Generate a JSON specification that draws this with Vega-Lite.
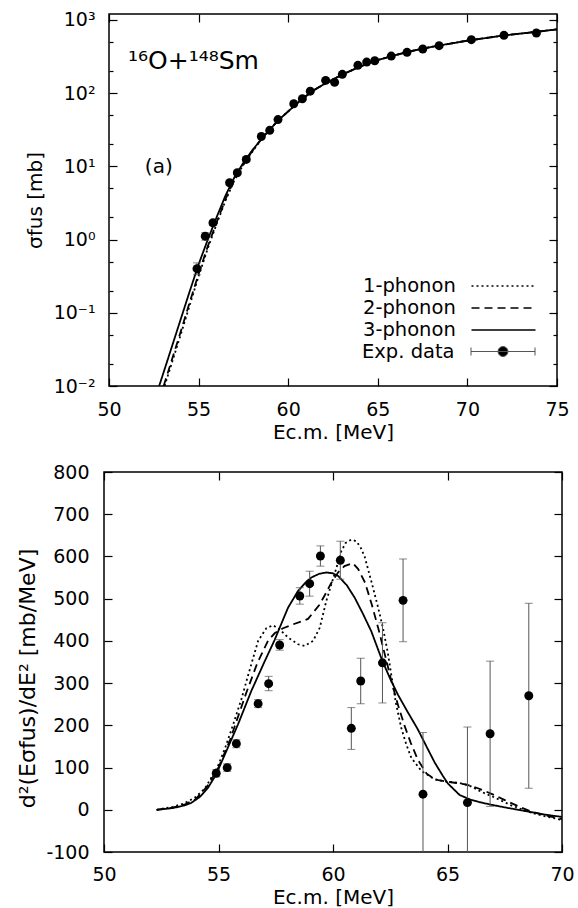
{
  "$schema": "https://vega.github.io/schema/vega-lite/v6.json",
  "background": "white",
  "padding": {"left": 16, "top": 10, "right": 0, "bottom": 0},
  "datasets": {
    "topCurves": [
      {"model":"3-phonon","E":52.8,"sigma":0.01},{"model":"3-phonon","E":53.5,"sigma":0.0339},{"model":"3-phonon","E":54,"sigma":0.0813},{"model":"3-phonon","E":54.5,"sigma":0.195},{"model":"3-phonon","E":55,"sigma":0.457},{"model":"3-phonon","E":55.5,"sigma":0.977},{"model":"3-phonon","E":56,"sigma":2.0},{"model":"3-phonon","E":56.5,"sigma":3.98},{"model":"3-phonon","E":57,"sigma":7.08},{"model":"3-phonon","E":57.5,"sigma":11.2},{"model":"3-phonon","E":58,"sigma":16.6},{"model":"3-phonon","E":58.5,"sigma":23.4},{"model":"3-phonon","E":59,"sigma":32.4},{"model":"3-phonon","E":59.5,"sigma":43.7},{"model":"3-phonon","E":60,"sigma":56.2},{"model":"3-phonon","E":60.5,"sigma":72.4},{"model":"3-phonon","E":61,"sigma":91.2},{"model":"3-phonon","E":61.5,"sigma":112},{"model":"3-phonon","E":62,"sigma":132},{"model":"3-phonon","E":63,"sigma":178},{"model":"3-phonon","E":64,"sigma":229},{"model":"3-phonon","E":65,"sigma":282},{"model":"3-phonon","E":66,"sigma":331},{"model":"3-phonon","E":67,"sigma":380},{"model":"3-phonon","E":68,"sigma":427},{"model":"3-phonon","E":70,"sigma":519},{"model":"3-phonon","E":72,"sigma":610},{"model":"3-phonon","E":74,"sigma":692},{"model":"3-phonon","E":75,"sigma":741},
      {"model":"2-phonon","E":53.05,"sigma":0.01},{"model":"2-phonon","E":53.5,"sigma":0.0224},{"model":"2-phonon","E":54,"sigma":0.055},{"model":"2-phonon","E":54.5,"sigma":0.138},{"model":"2-phonon","E":55,"sigma":0.339},{"model":"2-phonon","E":55.5,"sigma":0.794},{"model":"2-phonon","E":56,"sigma":1.70},{"model":"2-phonon","E":56.5,"sigma":3.55},{"model":"2-phonon","E":57,"sigma":6.61},{"model":"2-phonon","E":57.5,"sigma":10.7},{"model":"2-phonon","E":58,"sigma":16.2},{"model":"2-phonon","E":58.5,"sigma":23.4},{"model":"2-phonon","E":59,"sigma":32.4},{"model":"2-phonon","E":59.5,"sigma":43.7},{"model":"2-phonon","E":60,"sigma":56.2},{"model":"2-phonon","E":60.5,"sigma":72.4},{"model":"2-phonon","E":61,"sigma":91.2},{"model":"2-phonon","E":61.5,"sigma":112},{"model":"2-phonon","E":62,"sigma":132},{"model":"2-phonon","E":63,"sigma":178},{"model":"2-phonon","E":64,"sigma":229},{"model":"2-phonon","E":65,"sigma":282},{"model":"2-phonon","E":66,"sigma":331},{"model":"2-phonon","E":67,"sigma":380},{"model":"2-phonon","E":68,"sigma":427},{"model":"2-phonon","E":70,"sigma":519},{"model":"2-phonon","E":72,"sigma":610},{"model":"2-phonon","E":74,"sigma":692},{"model":"2-phonon","E":75,"sigma":741},
      {"model":"1-phonon","E":53.1,"sigma":0.01},{"model":"1-phonon","E":53.5,"sigma":0.0204},{"model":"1-phonon","E":54,"sigma":0.0501},{"model":"1-phonon","E":54.5,"sigma":0.126},{"model":"1-phonon","E":55,"sigma":0.316},{"model":"1-phonon","E":55.5,"sigma":0.741},{"model":"1-phonon","E":56,"sigma":1.62},{"model":"1-phonon","E":56.5,"sigma":3.39},{"model":"1-phonon","E":57,"sigma":6.46},{"model":"1-phonon","E":57.5,"sigma":10.5},{"model":"1-phonon","E":58,"sigma":15.8},{"model":"1-phonon","E":58.5,"sigma":23.4},{"model":"1-phonon","E":59,"sigma":32.4},{"model":"1-phonon","E":59.5,"sigma":43.7},{"model":"1-phonon","E":60,"sigma":56.2},{"model":"1-phonon","E":60.5,"sigma":72.4},{"model":"1-phonon","E":61,"sigma":91.2},{"model":"1-phonon","E":61.5,"sigma":112},{"model":"1-phonon","E":62,"sigma":132},{"model":"1-phonon","E":63,"sigma":178},{"model":"1-phonon","E":64,"sigma":229},{"model":"1-phonon","E":65,"sigma":282},{"model":"1-phonon","E":66,"sigma":331},{"model":"1-phonon","E":67,"sigma":380},{"model":"1-phonon","E":68,"sigma":427},{"model":"1-phonon","E":70,"sigma":519},{"model":"1-phonon","E":72,"sigma":610},{"model":"1-phonon","E":74,"sigma":692},{"model":"1-phonon","E":75,"sigma":741}
    ],
    "topExp": [
      {"E":54.91,"sigma":0.40,"lo":0.33,"hi":0.48},{"E":55.37,"sigma":1.11,"lo":0.98,"hi":1.24},{"E":55.80,"sigma":1.69,"lo":1.55,"hi":1.83},{"E":56.73,"sigma":5.96,"lo":5.6,"hi":6.3},{"E":57.16,"sigma":8.15,"lo":7.7,"hi":8.6},{"E":57.66,"sigma":12.4,"lo":11.8,"hi":13.0},{"E":58.50,"sigma":25.5,"lo":24.5,"hi":26.5},{"E":58.97,"sigma":31.0,"lo":29.8,"hi":32.2},{"E":59.43,"sigma":43.4,"lo":41.7,"hi":45.1},{"E":60.31,"sigma":71.4,"lo":68.5,"hi":74.3},{"E":60.79,"sigma":83.6,"lo":80.3,"hi":86.9},{"E":61.23,"sigma":106,"lo":102,"hi":110},{"E":62.09,"sigma":149,"lo":143,"hi":155},{"E":62.59,"sigma":140,"lo":134,"hi":146},{"E":63.02,"sigma":180,"lo":173,"hi":187},{"E":63.89,"sigma":239,"lo":229,"hi":249},{"E":64.38,"sigma":265,"lo":254,"hi":276},{"E":64.83,"sigma":276,"lo":265,"hi":287},{"E":65.75,"sigma":320,"lo":307,"hi":333},{"E":66.63,"sigma":360,"lo":346,"hi":374},{"E":67.51,"sigma":399,"lo":383,"hi":415},{"E":68.42,"sigma":443,"lo":425,"hi":461},{"E":70.22,"sigma":535,"lo":514,"hi":556},{"E":72.04,"sigma":614,"lo":589,"hi":639},{"E":73.85,"sigma":660,"lo":634,"hi":686}
    ],
    "botCurves": [
      {"model":"3-phonon","E":52.3,"v":0},{"model":"3-phonon","E":53.0,"v":4},{"model":"3-phonon","E":53.5,"v":10},{"model":"3-phonon","E":53.8,"v":16},{"model":"3-phonon","E":54.2,"v":31},{"model":"3-phonon","E":54.54,"v":52},{"model":"3-phonon","E":54.9,"v":84},{"model":"3-phonon","E":55.4,"v":146},{"model":"3-phonon","E":55.85,"v":202},{"model":"3-phonon","E":56.43,"v":281},{"model":"3-phonon","E":57.02,"v":352},{"model":"3-phonon","E":57.45,"v":402},{"model":"3-phonon","E":57.8,"v":448},{"model":"3-phonon","E":58.04,"v":479},{"model":"3-phonon","E":58.47,"v":518},{"model":"3-phonon","E":58.8,"v":538},{"model":"3-phonon","E":59.05,"v":550},{"model":"3-phonon","E":59.4,"v":559},{"model":"3-phonon","E":59.71,"v":562},{"model":"3-phonon","E":60.0,"v":560},{"model":"3-phonon","E":60.22,"v":554},{"model":"3-phonon","E":60.6,"v":532},{"model":"3-phonon","E":60.95,"v":502},{"model":"3-phonon","E":61.3,"v":465},{"model":"3-phonon","E":61.67,"v":423},{"model":"3-phonon","E":62.16,"v":352},{"model":"3-phonon","E":62.5,"v":310},{"model":"3-phonon","E":62.84,"v":272},{"model":"3-phonon","E":63.3,"v":228},{"model":"3-phonon","E":63.71,"v":190},{"model":"3-phonon","E":64.1,"v":148},{"model":"3-phonon","E":64.44,"v":112},{"model":"3-phonon","E":64.8,"v":80},{"model":"3-phonon","E":65.02,"v":62},{"model":"3-phonon","E":65.53,"v":35},{"model":"3-phonon","E":66.0,"v":24},{"model":"3-phonon","E":66.4,"v":18},{"model":"3-phonon","E":67.0,"v":11},{"model":"3-phonon","E":67.57,"v":5},{"model":"3-phonon","E":68.5,"v":-4},{"model":"3-phonon","E":69.2,"v":-11},{"model":"3-phonon","E":70,"v":-17},
      {"model":"2-phonon","E":52.3,"v":0},{"model":"2-phonon","E":53.0,"v":5},{"model":"2-phonon","E":53.5,"v":12},{"model":"2-phonon","E":54.0,"v":25},{"model":"2-phonon","E":54.5,"v":55},{"model":"2-phonon","E":55.0,"v":100},{"model":"2-phonon","E":55.5,"v":165},{"model":"2-phonon","E":55.71,"v":198},{"model":"2-phonon","E":56.2,"v":275},{"model":"2-phonon","E":56.7,"v":348},{"model":"2-phonon","E":57.16,"v":400},{"model":"2-phonon","E":57.45,"v":418},{"model":"2-phonon","E":57.82,"v":430},{"model":"2-phonon","E":58.3,"v":440},{"model":"2-phonon","E":58.91,"v":452},{"model":"2-phonon","E":59.13,"v":467},{"model":"2-phonon","E":59.4,"v":485},{"model":"2-phonon","E":59.64,"v":508},{"model":"2-phonon","E":59.9,"v":535},{"model":"2-phonon","E":60.22,"v":562},{"model":"2-phonon","E":60.5,"v":577},{"model":"2-phonon","E":60.87,"v":584},{"model":"2-phonon","E":61.1,"v":570},{"model":"2-phonon","E":61.4,"v":538},{"model":"2-phonon","E":61.7,"v":485},{"model":"2-phonon","E":62.0,"v":425},{"model":"2-phonon","E":62.3,"v":360},{"model":"2-phonon","E":62.55,"v":305},{"model":"2-phonon","E":62.8,"v":255},{"model":"2-phonon","E":63.13,"v":198},{"model":"2-phonon","E":63.4,"v":158},{"model":"2-phonon","E":63.71,"v":118},{"model":"2-phonon","E":64.08,"v":86},{"model":"2-phonon","E":64.4,"v":74},{"model":"2-phonon","E":64.6,"v":70},{"model":"2-phonon","E":65.3,"v":64},{"model":"2-phonon","E":65.8,"v":60},{"model":"2-phonon","E":66.33,"v":51},{"model":"2-phonon","E":67.0,"v":36},{"model":"2-phonon","E":67.5,"v":23},{"model":"2-phonon","E":68.1,"v":8},{"model":"2-phonon","E":68.7,"v":-5},{"model":"2-phonon","E":69.4,"v":-15},{"model":"2-phonon","E":70,"v":-22},
      {"model":"1-phonon","E":52.3,"v":0},{"model":"1-phonon","E":53.0,"v":7},{"model":"1-phonon","E":53.5,"v":15},{"model":"1-phonon","E":54.0,"v":30},{"model":"1-phonon","E":54.4,"v":50},{"model":"1-phonon","E":54.95,"v":100},{"model":"1-phonon","E":55.3,"v":148},{"model":"1-phonon","E":55.63,"v":200},{"model":"1-phonon","E":56.0,"v":262},{"model":"1-phonon","E":56.29,"v":318},{"model":"1-phonon","E":56.73,"v":400},{"model":"1-phonon","E":57.09,"v":430},{"model":"1-phonon","E":57.38,"v":437},{"model":"1-phonon","E":57.67,"v":427},{"model":"1-phonon","E":58.04,"v":408},{"model":"1-phonon","E":58.47,"v":392},{"model":"1-phonon","E":58.76,"v":388},{"model":"1-phonon","E":59.13,"v":400},{"model":"1-phonon","E":59.42,"v":431},{"model":"1-phonon","E":59.71,"v":495},{"model":"1-phonon","E":59.93,"v":534},{"model":"1-phonon","E":60.15,"v":573},{"model":"1-phonon","E":60.36,"v":612},{"model":"1-phonon","E":60.55,"v":632},{"model":"1-phonon","E":60.8,"v":640},{"model":"1-phonon","E":61.02,"v":636},{"model":"1-phonon","E":61.2,"v":622},{"model":"1-phonon","E":61.38,"v":600},{"model":"1-phonon","E":61.67,"v":542},{"model":"1-phonon","E":61.97,"v":479},{"model":"1-phonon","E":62.18,"v":431},{"model":"1-phonon","E":62.4,"v":370},{"model":"1-phonon","E":62.55,"v":318},{"model":"1-phonon","E":62.75,"v":252},{"model":"1-phonon","E":62.98,"v":194},{"model":"1-phonon","E":63.2,"v":155},{"model":"1-phonon","E":63.42,"v":123},{"model":"1-phonon","E":63.86,"v":92},{"model":"1-phonon","E":64.44,"v":72},{"model":"1-phonon","E":65.0,"v":66},{"model":"1-phonon","E":65.5,"v":64},{"model":"1-phonon","E":66.0,"v":56},{"model":"1-phonon","E":66.5,"v":42},{"model":"1-phonon","E":67.06,"v":29},{"model":"1-phonon","E":67.8,"v":10},{"model":"1-phonon","E":68.66,"v":-7},{"model":"1-phonon","E":69.3,"v":-16},{"model":"1-phonon","E":70,"v":-24}
    ],
    "botExp": [
      {"E":54.90,"v":86.5,"lo":78,"hi":95},{"E":55.38,"v":99.8,"lo":91,"hi":109},{"E":55.78,"v":156.6,"lo":147,"hi":166},{"E":56.73,"v":251.3,"lo":242,"hi":261},{"E":57.19,"v":298.7,"lo":282,"hi":316},{"E":57.67,"v":390.3,"lo":378,"hi":403},{"E":58.55,"v":506.4,"lo":487,"hi":526},{"E":58.98,"v":535.5,"lo":506,"hi":565},{"E":59.45,"v":601,"lo":577,"hi":625},{"E":60.32,"v":591,"lo":546,"hi":636},{"E":60.80,"v":193,"lo":143,"hi":242},{"E":61.21,"v":305,"lo":251,"hi":359},{"E":62.16,"v":348,"lo":253,"hi":443},{"E":63.06,"v":496,"lo":398,"hi":594},{"E":63.93,"v":37,"lo":-109,"hi":183},{"E":65.87,"v":17,"lo":-162,"hi":196},{"E":66.86,"v":180,"lo":8,"hi":352},{"E":68.55,"v":270,"lo":51,"hi":489}
    ]
  },
  "vconcat": [
    {
      "width": 448,
      "height": 372,
      "resolve": {"axis": {"x": "independent", "y": "independent"}},
      "layer": [
        {
          "data": {"name": "topCurves"},
          "mark": {"type": "line", "color": "black", "strokeWidth": 1.8, "clip": true},
          "encoding": {
            "x": {"field": "E", "type": "quantitative", "scale": {"domain": [50, 75], "nice": false, "zero": false},
                  "axis": {"orient": "bottom", "values": [50, 55, 60, 65, 70, 75], "title": "Ec.m. [MeV]", "tickSize": -8, "labelPadding": 22, "titlePadding": 3}},
            "y": {"field": "sigma", "type": "quantitative", "scale": {"type": "log", "domain": [0.01, 1200], "nice": false},
                  "axis": {"orient": "left", "values": [0.01, 0.1, 1, 10, 100, 1000], "title": "σfus [mb]", "tickSize": -8, "labelPadding": 22, "titlePadding": 8,
                           "labelExpr": "datum.value == 1000 ? '10³' : datum.value == 100 ? '10²' : datum.value == 10 ? '10¹' : datum.value == 1 ? '10⁰' : datum.value == 0.1 ? '10⁻¹' : '10⁻²'"}},
            "strokeDash": {"field": "model", "type": "nominal",
                           "scale": {"domain": ["1-phonon", "2-phonon", "3-phonon"], "range": [[2, 3], [8, 5], [1, 0]]},
                           "legend": {"orient": "none", "legendX": 232, "legendY": 261, "title": null, "padding": 0, "rowPadding": 1,
                                      "symbolType": "M-3.2,0H3.2", "symbolSize": 400, "symbolStrokeWidth": 1.6, "symbolStrokeColor": "black",
                                      "symbolOffset": 151.5, "labelOffset": -151.5, "labelFontSize": 19.5, "labelLimit": 200}},
            "order": {"field": "E", "type": "quantitative"}
          }
        },
        {
          "data": {"name": "topExp"},
          "mark": {"type": "rule", "color": "#555555", "strokeWidth": 1},
          "encoding": {
            "x": {"field": "E", "type": "quantitative", "axis": {"orient": "top", "values": [50, 55, 60, 65, 70, 75], "labels": false, "title": null, "tickSize": -8}},
            "y": {"field": "lo", "type": "quantitative", "axis": {"orient": "right", "values": [0.01, 0.1, 1, 10, 100, 1000], "labels": false, "title": null, "tickSize": -8}},
            "y2": {"field": "hi"}
          }
        },
        {
          "data": {"name": "topExp"},
          "mark": {"type": "tick", "orient": "horizontal", "color": "#555555", "size": 8, "thickness": 1},
          "encoding": {
            "x": {"field": "E", "type": "quantitative", "axis": null},
            "y": {"field": "lo", "type": "quantitative", "axis": {"orient": "left", "values": [0.02, 0.05, 0.2, 0.5, 2, 5, 20, 50, 200, 500], "labels": false, "title": null, "tickSize": -4}}
          }
        },
        {
          "data": {"name": "topExp"},
          "mark": {"type": "tick", "orient": "horizontal", "color": "#555555", "size": 8, "thickness": 1},
          "encoding": {
            "x": {"field": "E", "type": "quantitative", "axis": null},
            "y": {"field": "hi", "type": "quantitative", "axis": {"orient": "right", "values": [0.02, 0.05, 0.2, 0.5, 2, 5, 20, 50, 200, 500], "labels": false, "title": null, "tickSize": -4}}
          }
        },
        {
          "data": {"name": "topExp"},
          "mark": {"type": "circle", "size": 80, "opacity": 1},
          "encoding": {
            "x": {"field": "E", "type": "quantitative", "axis": null},
            "y": {"field": "sigma", "type": "quantitative", "axis": null},
            "fill": {"datum": "Exp. data", "type": "nominal", "scale": {"domain": ["Exp. data"], "range": ["black"]},
                     "legend": {"orient": "none", "legendX": 232, "legendY": 327, "title": null, "padding": 0,
                                "symbolType": "M-3.2,0H3.2M-3.2,-0.4V0.4M3.2,-0.4V0.4M-0.5,0A0.5,0.5,0,1,1,0.5,0A0.5,0.5,0,1,1,-0.5,0Z",
                                "symbolSize": 400, "symbolOffset": 151.5, "labelOffset": -151.5, "labelFontSize": 19.5, "labelLimit": 200,
                                "symbolStrokeColor": "#555555", "symbolStrokeWidth": 1, "symbolFillColor": "black",
                                "encode": {"symbols": {"update": {"stroke": {"value": "#555555"}, "strokeWidth": {"value": 1}, "fill": {"value": "black"}, "opacity": {"value": 1}}}}}}
          }
        },
        {
          "data": {"values": [{}]},
          "mark": {"type": "text", "align": "left", "baseline": "alphabetic", "fontSize": 25, "color": "black", "text": "¹⁶O+¹⁴⁸Sm"},
          "encoding": {
            "x": {"datum": 51.06, "type": "quantitative", "axis": null},
            "y": {"datum": 211, "type": "quantitative", "axis": null}
          }
        },
        {
          "data": {"values": [{}]},
          "mark": {"type": "text", "align": "left", "baseline": "alphabetic", "fontSize": 20, "color": "black", "text": "(a)"},
          "encoding": {
            "x": {"datum": 52.0, "type": "quantitative", "axis": null},
            "y": {"datum": 8.1, "type": "quantitative", "axis": null}
          }
        }
      ]
    },
    {
      "width": 458,
      "height": 380,
      "resolve": {"axis": {"x": "independent", "y": "independent"}},
      "layer": [
        {
          "data": {"name": "botCurves"},
          "mark": {"type": "line", "color": "black", "strokeWidth": 1.8, "clip": true},
          "encoding": {
            "x": {"field": "E", "type": "quantitative", "scale": {"domain": [50, 70], "nice": false, "zero": false},
                  "axis": {"orient": "bottom", "values": [50, 55, 60, 65, 70], "title": "Ec.m. [MeV]", "tickSize": -8, "labelPadding": 21, "titlePadding": 3}},
            "y": {"field": "v", "type": "quantitative", "scale": {"domain": [-100, 800], "nice": false, "zero": false},
                  "axis": {"orient": "left", "values": [-100, 0, 100, 200, 300, 400, 500, 600, 700, 800], "labelExpr": "'' + datum.value", "title": "d²(Eσfus)/dE² [mb/MeV]", "titleFontSize": 22, "titleY": 206, "tickSize": -8, "labelPadding": 23, "titlePadding": 6}},
            "strokeDash": {"field": "model", "type": "nominal",
                           "scale": {"domain": ["1-phonon", "2-phonon", "3-phonon"], "range": [[2, 3], [8, 5], [1, 0]]},
                           "legend": null},
            "order": {"field": "E", "type": "quantitative"}
          }
        },
        {
          "data": {"name": "botExp"},
          "mark": {"type": "rule", "color": "#555555", "strokeWidth": 1, "clip": true},
          "encoding": {
            "x": {"field": "E", "type": "quantitative", "axis": {"orient": "top", "values": [50, 55, 60, 65, 70], "labels": false, "title": null, "tickSize": -8}},
            "y": {"field": "lo", "type": "quantitative", "axis": {"orient": "right", "values": [-100, 0, 100, 200, 300, 400, 500, 600, 700, 800], "labels": false, "title": null, "tickSize": -8}},
            "y2": {"field": "hi"}
          }
        },
        {
          "data": {"name": "botExp"},
          "mark": {"type": "tick", "orient": "horizontal", "color": "#555555", "size": 8, "thickness": 1, "clip": true},
          "encoding": {
            "x": {"field": "E", "type": "quantitative", "axis": null},
            "y": {"field": "lo", "type": "quantitative", "axis": null}
          }
        },
        {
          "data": {"name": "botExp"},
          "mark": {"type": "tick", "orient": "horizontal", "color": "#555555", "size": 8, "thickness": 1, "clip": true},
          "encoding": {
            "x": {"field": "E", "type": "quantitative", "axis": null},
            "y": {"field": "hi", "type": "quantitative", "axis": null}
          }
        },
        {
          "data": {"name": "botExp"},
          "mark": {"type": "circle", "size": 80, "opacity": 1, "color": "black"},
          "encoding": {
            "x": {"field": "E", "type": "quantitative", "axis": null},
            "y": {"field": "v", "type": "quantitative", "axis": null}
          }
        }
      ]
    }
  ],
  "spacing": 86,
  "bounds": "flush",
  "center": true,
  "resolve": {"scale": {"strokeDash": "independent", "fill": "independent"}, "legend": {"strokeDash": "independent", "fill": "independent"}},
  "config": {
    "font": "DejaVu Sans",
    "view": {"stroke": "black", "strokeWidth": 1.5},
    "axis": {"domain": false, "grid": false, "ticks": true, "tickColor": "black", "tickWidth": 1.2,
             "labelFont": "DejaVu Sans", "labelFontSize": 19, "labelColor": "black", "labelFlush": false, "labelOverlap": false,
             "titleFont": "DejaVu Sans", "titleFontSize": 20, "titleFontWeight": "normal", "titleColor": "black"},
    "legend": {"labelFont": "DejaVu Sans", "labelFontSize": 20, "labelColor": "black"},
    "text": {"font": "DejaVu Sans"}
  }
}
